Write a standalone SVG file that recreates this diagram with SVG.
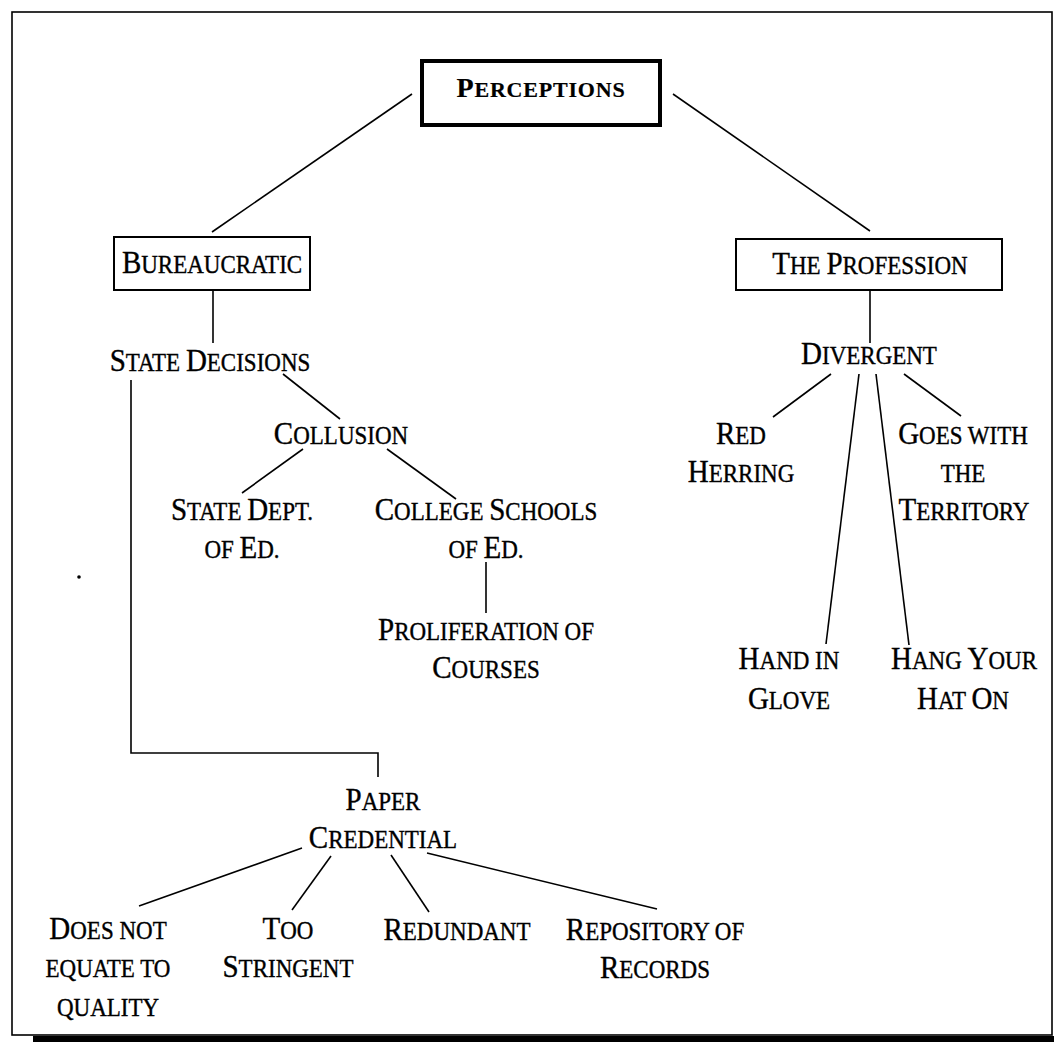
<svg xmlns="http://www.w3.org/2000/svg" width="1054" height="1042" viewBox="0 0 1054 1042">
  <style>
    text { font-family: "Liberation Serif", "Times New Roman", serif; font-size: 29px; fill: #000; stroke: #000; stroke-width: 0.35px; text-anchor: middle;
           transform-box: fill-box; transform-origin: center; transform: scaleY(1.08); }
    .sc { font-size: 23px; text-transform: uppercase; }
    .title { font-weight: bold; font-size: 28px; letter-spacing: 0.8px; transform: none; stroke-width: 0.2px; }
    .title .sc { font-size: 22px; }
    .box { fill: #fff; stroke: #000; stroke-width: 2; }
    .box-main { fill: #fff; stroke: #000; stroke-width: 4; }
    #connectors line, #connectors polyline { stroke: #000; stroke-width: 1.6; fill: none; }
  </style>

  <rect width="1054" height="1042" fill="#fff"/>

  <!-- page frame with heavy bottom rule -->
  <g id="frame">
    <rect x="12" y="12" width="1040" height="1023" fill="none" stroke="#000" stroke-width="1.6"/>
    <rect x="33" y="1036" width="1021" height="6" fill="#000"/>
    <circle cx="79" cy="577" r="1.8" fill="#000"/>
  </g>

  <g id="connectors">
    <line x1="412" y1="94" x2="212" y2="232"/>
    <line x1="673" y1="94" x2="870" y2="231"/>
    <line x1="213" y1="290" x2="213" y2="343"/>
    <line x1="283" y1="374" x2="340" y2="419"/>
    <line x1="303" y1="449" x2="242" y2="493"/>
    <line x1="387" y1="449" x2="456" y2="499"/>
    <line x1="486" y1="562" x2="486" y2="613"/>
    <polyline points="131,380 131,753 378,753 378,777"/>
    <line x1="302" y1="848" x2="139" y2="906"/>
    <line x1="331" y1="856" x2="292" y2="910"/>
    <line x1="391" y1="855" x2="429" y2="912"/>
    <line x1="427" y1="853" x2="657" y2="909"/>
    <line x1="870" y1="290" x2="870" y2="343"/>
    <line x1="831" y1="374" x2="773" y2="417"/>
    <line x1="904" y1="374" x2="961" y2="416"/>
    <line x1="859" y1="374" x2="826" y2="644"/>
    <line x1="876" y1="374" x2="909" y2="645"/>
  </g>

  <g id="perceptions">
    <rect class="box-main" x="422" y="61" width="238" height="64"/>
    <text class="title" x="541" y="97">P<tspan class="sc">erceptions</tspan></text>
  </g>

  <g id="bureaucratic">
    <rect class="box" x="114" y="237" width="196" height="53"/>
    <text x="212" y="272">B<tspan class="sc">ureaucratic</tspan></text>
  </g>

  <g id="state-decisions">
    <text x="210" y="370">S<tspan class="sc">tate </tspan>D<tspan class="sc">ecisions</tspan></text>
  </g>

  <g id="collusion">
    <text x="341" y="443">C<tspan class="sc">ollusion</tspan></text>
  </g>

  <g id="state-dept">
    <text x="242" y="519">S<tspan class="sc">tate </tspan>D<tspan class="sc">ept.</tspan></text>
    <text x="242" y="557"><tspan class="sc">of </tspan>E<tspan class="sc">d.</tspan></text>
  </g>

  <g id="college-schools">
    <text x="486" y="519">C<tspan class="sc">ollege </tspan>S<tspan class="sc">chools</tspan></text>
    <text x="486" y="557"><tspan class="sc">of </tspan>E<tspan class="sc">d.</tspan></text>
  </g>

  <g id="proliferation">
    <text x="486" y="639">P<tspan class="sc">roliferation of</tspan></text>
    <text x="486" y="677">C<tspan class="sc">ourses</tspan></text>
  </g>

  <g id="paper-credential">
    <text x="383" y="809">P<tspan class="sc">aper</tspan></text>
    <text x="383" y="847">C<tspan class="sc">redential</tspan></text>
  </g>

  <g id="does-not-equate">
    <text x="108" y="938">D<tspan class="sc">oes not</tspan></text>
    <text x="108" y="976"><tspan class="sc">equate to</tspan></text>
    <text x="108" y="1015"><tspan class="sc">quality</tspan></text>
  </g>

  <g id="too-stringent">
    <text x="288" y="938">T<tspan class="sc">oo</tspan></text>
    <text x="288" y="976">S<tspan class="sc">tringent</tspan></text>
  </g>

  <g id="redundant">
    <text x="457" y="939">R<tspan class="sc">edundant</tspan></text>
  </g>

  <g id="repository">
    <text x="655" y="939">R<tspan class="sc">epository of</tspan></text>
    <text x="655" y="977">R<tspan class="sc">ecords</tspan></text>
  </g>

  <g id="the-profession">
    <rect class="box" x="736" y="239" width="266" height="51"/>
    <text x="870" y="273">T<tspan class="sc">he </tspan>P<tspan class="sc">rofession</tspan></text>
  </g>

  <g id="divergent">
    <text x="869" y="363">D<tspan class="sc">ivergent</tspan></text>
  </g>

  <g id="red-herring">
    <text x="741" y="443">R<tspan class="sc">ed</tspan></text>
    <text x="741" y="481">H<tspan class="sc">erring</tspan></text>
  </g>

  <g id="goes-with-territory">
    <text x="963" y="443">G<tspan class="sc">oes with</tspan></text>
    <text x="963" y="481"><tspan class="sc">the</tspan></text>
    <text x="964" y="519">T<tspan class="sc">erritory</tspan></text>
  </g>

  <g id="hand-in-glove">
    <text x="789" y="668">H<tspan class="sc">and in</tspan></text>
    <text x="789" y="708">G<tspan class="sc">love</tspan></text>
  </g>

  <g id="hang-your-hat">
    <text x="964" y="668">H<tspan class="sc">ang </tspan>Y<tspan class="sc">our</tspan></text>
    <text x="963" y="708">H<tspan class="sc">at </tspan>O<tspan class="sc">n</tspan></text>
  </g>
</svg>
